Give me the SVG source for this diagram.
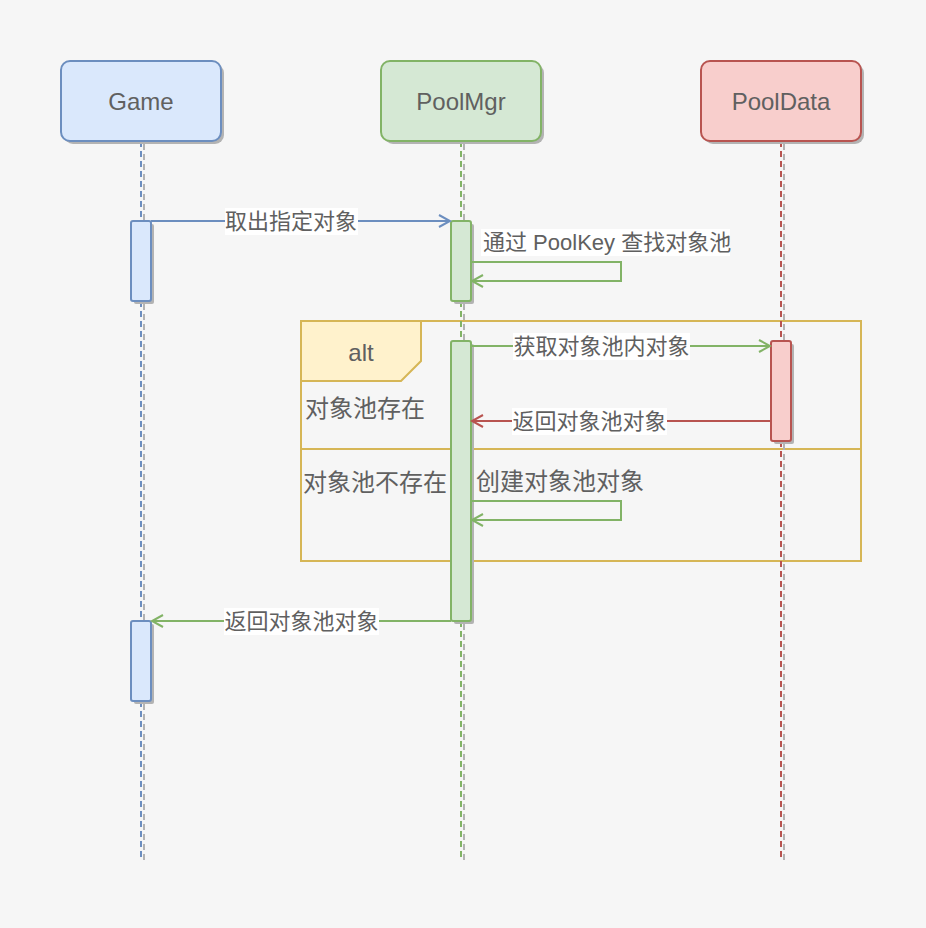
<svg xmlns="http://www.w3.org/2000/svg" width="926" height="928" viewBox="0 0 926 928">
<defs>
<style>
text{font-family:"Liberation Sans","Noto Sans CJK SC",sans-serif;fill:#606060;dominant-baseline:central}
.t24{font-size:24px}
.t22{font-size:22px}
.sh{fill:#b3b3b3}
.shl{stroke:#b3b3b3;stroke-width:2;stroke-dasharray:6 4;fill:none}
.msg{fill:none;stroke-width:2}
</style>
<marker id="ab" markerWidth="14" markerHeight="14" refX="12" refY="7" orient="auto" markerUnits="userSpaceOnUse"><path d="M1,1 L12,7 L1,13" fill="none" stroke="#6c8ebf" stroke-width="2"/></marker>
<marker id="ag" markerWidth="14" markerHeight="14" refX="12" refY="7" orient="auto" markerUnits="userSpaceOnUse"><path d="M1,1 L12,7 L1,13" fill="none" stroke="#82b366" stroke-width="2"/></marker>
<marker id="ar" markerWidth="14" markerHeight="14" refX="12" refY="7" orient="auto" markerUnits="userSpaceOnUse"><path d="M1,1 L12,7 L1,13" fill="none" stroke="#b85450" stroke-width="2"/></marker>
</defs>
<rect width="926" height="928" fill="#f6f6f6"/>

<g id="frame">
<rect x="301" y="321" width="560" height="240" fill="none" stroke="#d6b656" stroke-width="2"/>
<line x1="301" y1="449" x2="861" y2="449" stroke="#d6b656" stroke-width="2"/>
<path d="M301,321 H421 V361 L401,381 H301 Z" fill="#fff2cc" stroke="#d6b656" stroke-width="2"/>
<text class="t24" x="361" y="352" text-anchor="middle">alt</text>
<text class="t24" x="305" y="408">对象池存在</text>
<text class="t24" x="303" y="482">对象池不存在</text>
</g>

<g id="lifelines">
<line class="shl" x1="144" y1="144" x2="144" y2="860"/>
<line x1="141" y1="141" x2="141" y2="858" stroke="#6c8ebf" stroke-width="2" stroke-dasharray="6 4"/>
<line class="shl" x1="464" y1="144" x2="464" y2="860"/>
<line x1="461" y1="141" x2="461" y2="858" stroke="#82b366" stroke-width="2" stroke-dasharray="6 4"/>
<line class="shl" x1="784" y1="144" x2="784" y2="860"/>
<line x1="781" y1="141" x2="781" y2="858" stroke="#b85450" stroke-width="2" stroke-dasharray="6 4"/>
</g>

<g id="Game">
<rect class="sh" x="64" y="64" width="160" height="80" rx="9"/>
<rect x="61" y="61" width="160" height="80" rx="9" fill="#dae8fc" stroke="#6c8ebf" stroke-width="2"/>
<text class="t24" x="141" y="101" text-anchor="middle">Game</text>
</g>
<g id="PoolMgr">
<rect class="sh" x="384" y="64" width="160" height="80" rx="9"/>
<rect x="381" y="61" width="160" height="80" rx="9" fill="#d5e8d4" stroke="#82b366" stroke-width="2"/>
<text class="t24" x="461" y="101" text-anchor="middle">PoolMgr</text>
</g>
<g id="PoolData">
<rect class="sh" x="704" y="64" width="160" height="80" rx="9"/>
<rect x="701" y="61" width="160" height="80" rx="9" fill="#f8cecc" stroke="#b85450" stroke-width="2"/>
<text class="t24" x="781" y="101" text-anchor="middle">PoolData</text>
</g>

<g id="activations">
<rect class="sh" x="134" y="224" width="20" height="80" rx="2"/>
<rect x="131" y="221" width="20" height="80" rx="2" fill="#dae8fc" stroke="#6c8ebf" stroke-width="2"/>
<rect class="sh" x="134" y="624" width="20" height="80" rx="2"/>
<rect x="131" y="621" width="20" height="80" rx="2" fill="#dae8fc" stroke="#6c8ebf" stroke-width="2"/>
<rect class="sh" x="454" y="224" width="20" height="80" rx="2"/>
<rect x="451" y="221" width="20" height="80" rx="2" fill="#d5e8d4" stroke="#82b366" stroke-width="2"/>
<rect class="sh" x="454" y="344" width="20" height="280" rx="2"/>
<rect x="451" y="341" width="20" height="280" rx="2" fill="#d5e8d4" stroke="#82b366" stroke-width="2"/>
<rect class="sh" x="774" y="344" width="20" height="100" rx="2"/>
<rect x="771" y="341" width="20" height="100" rx="2" fill="#f8cecc" stroke="#b85450" stroke-width="2"/>
</g>

<g id="connectors">
<path class="msg" d="M151,221 H450" stroke="#6c8ebf" marker-end="url(#ab)"/>
<rect x="225" y="208" width="133" height="27" fill="#ffffff"/>
<text class="t22" x="291" y="221" text-anchor="middle">取出指定对象</text>

<path class="msg" d="M471,262 H621 V281 H472" stroke="#82b366" marker-end="url(#ag)"/>
<rect x="481" y="229" width="249" height="27" fill="#ffffff"/>
<text class="t22" x="483" y="242">通过 PoolKey 查找对象池</text>

<path class="msg" d="M471,346 H770" stroke="#82b366" marker-end="url(#ag)"/>
<rect x="513" y="333" width="177" height="27" fill="#ffffff"/>
<text class="t22" x="601.5" y="346" text-anchor="middle">获取对象池内对象</text>

<path class="msg" d="M771,421 H472" stroke="#b85450" marker-end="url(#ar)"/>
<rect x="512" y="408" width="155" height="27" fill="#ffffff"/>
<text class="t22" x="589.5" y="421" text-anchor="middle">返回对象池对象</text>

<path class="msg" d="M471,501 H621 V520 H472" stroke="#82b366" marker-end="url(#ag)"/>
<text class="t24" x="476" y="481">创建对象池对象</text>

<path class="msg" d="M451,621 H152" stroke="#82b366" marker-end="url(#ag)"/>
<rect x="224" y="608" width="155" height="27" fill="#ffffff"/>
<text class="t22" x="301.5" y="621" text-anchor="middle">返回对象池对象</text>
</g>
</svg>
